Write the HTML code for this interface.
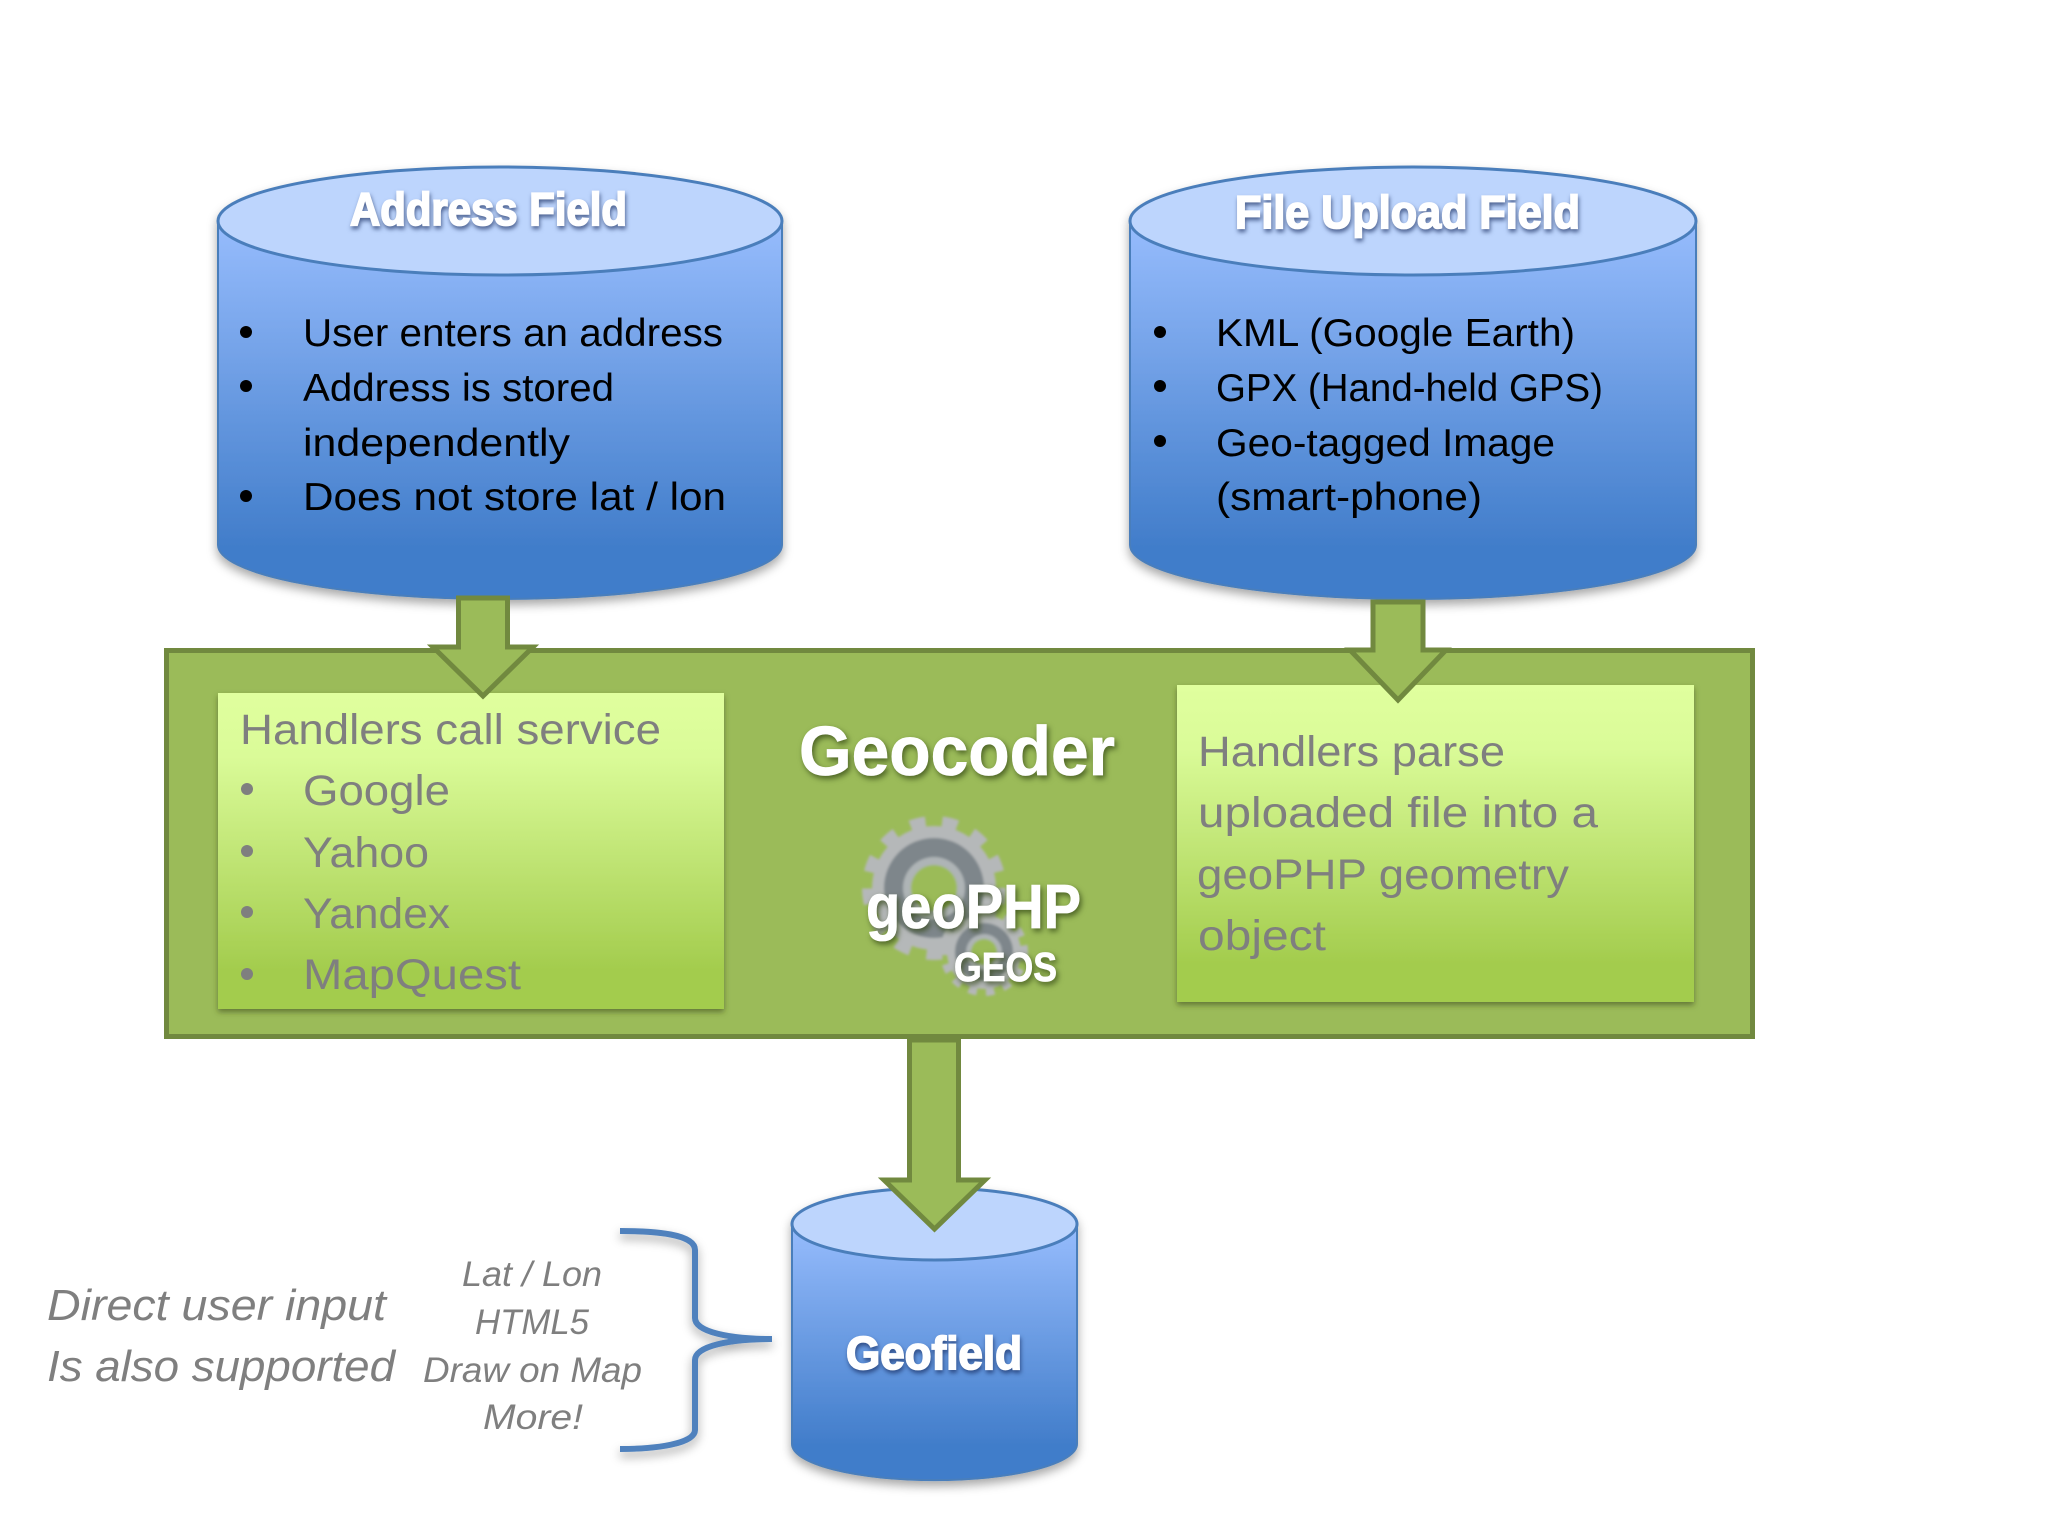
<!DOCTYPE html>
<html><head><meta charset="utf-8"><style>
html,body{margin:0;padding:0;background:#fff;width:2048px;height:1536px;overflow:hidden}
svg{display:block}
text{font-family:"Liberation Sans",sans-serif}
.b{font-size:39px;fill:#000}
.g{font-size:43px;fill:#7f7f7f}
.i{font-style:italic;fill:#7f7f7f}
.t{font-weight:bold;fill:#fff;stroke:#fff;stroke-width:1.8;filter:drop-shadow(1px 3px 2px rgba(20,40,90,.65))}
.w{font-weight:bold;fill:#fff;stroke:#fff;stroke-width:.8;filter:drop-shadow(2px 3px 3px rgba(50,70,20,.75))}
</style></head><body>
<svg width="2048" height="1536" viewBox="0 0 2048 1536" xmlns="http://www.w3.org/2000/svg">
<defs>
<linearGradient id="c" x1="0" y1="0" x2="0" y2="1"><stop offset="0.14" stop-color="#95bbfc"/><stop offset="0.88" stop-color="#417dca"/><stop offset="1" stop-color="#417dca"/></linearGradient>
<linearGradient id="l" x1="0" y1="0" x2="0" y2="1"><stop offset="0" stop-color="#e0ff9e"/><stop offset="0.2" stop-color="#dafb98"/><stop offset="0.88" stop-color="#a3cc4d"/><stop offset="1" stop-color="#a3cc4d"/></linearGradient>
<filter id="s" x="-10%" y="-10%" width="120%" height="125%"><feDropShadow dx="0" dy="5" stdDeviation="5" flood-color="#000" flood-opacity=".35"/></filter>
<filter id="s2" x="-10%" y="-10%" width="120%" height="125%"><feDropShadow dx="0" dy="3" stdDeviation="3" flood-color="#3c4a1c" flood-opacity=".6"/></filter>
<filter id="soft" x="-10%" y="-10%" width="120%" height="120%"><feGaussianBlur stdDeviation="1.2"/></filter>
</defs>
<rect width="2048" height="1536" fill="#fff"/>

<!-- cylinder 1 -->
<g filter="url(#s)"><path d="M218 221 V545 A282 54 0 0 0 782 545 V221 A282 54 0 0 0 218 221Z" fill="url(#c)" stroke="#4a7ebb" stroke-width="2"/></g>
<ellipse cx="500" cy="221" rx="282" ry="54" fill="#bdd5fd" stroke="#4a7ebb" stroke-width="3"/>
<text class="t" x="350" y="225" font-size="46" textLength="277" lengthAdjust="spacingAndGlyphs">Address Field</text>
<g fill="#000"><circle cx="246" cy="332" r="6"/><circle cx="246" cy="386" r="6"/><circle cx="246" cy="496" r="6"/></g>
<text class="b" x="303" y="346" textLength="420" lengthAdjust="spacingAndGlyphs">User enters an address</text>
<text class="b" x="303" y="401" textLength="311" lengthAdjust="spacingAndGlyphs">Address is stored</text>
<text class="b" x="303" y="456" textLength="267" lengthAdjust="spacingAndGlyphs">independently</text>
<text class="b" x="303" y="510" textLength="423" lengthAdjust="spacingAndGlyphs">Does not store lat / lon</text>

<!-- cylinder 2 -->
<g filter="url(#s)"><path d="M1130 221 V545 A283 54 0 0 0 1696 545 V221 A283 54 0 0 0 1130 221Z" fill="url(#c)" stroke="#4a7ebb" stroke-width="2"/></g>
<ellipse cx="1413" cy="221" rx="283" ry="54" fill="#bdd5fd" stroke="#4a7ebb" stroke-width="3"/>
<text class="t" x="1235" y="228" font-size="46" textLength="345" lengthAdjust="spacingAndGlyphs">File Upload Field</text>
<g fill="#000"><circle cx="1160" cy="332" r="6"/><circle cx="1160" cy="386" r="6"/><circle cx="1160" cy="441" r="6"/></g>
<text class="b" x="1216" y="346" textLength="359" lengthAdjust="spacingAndGlyphs">KML (Google Earth)</text>
<text class="b" x="1216" y="401" textLength="387" lengthAdjust="spacingAndGlyphs">GPX (Hand-held GPS)</text>
<text class="b" x="1216" y="456" textLength="339" lengthAdjust="spacingAndGlyphs">Geo-tagged Image</text>
<text class="b" x="1216" y="510" textLength="266" lengthAdjust="spacingAndGlyphs">(smart-phone)</text>

<!-- Geocoder box -->
<rect x="166.500" y="650.500" width="1586" height="386" fill="#9bbb59" stroke="#71893f" stroke-width="5"/>
<rect x="218" y="693" width="506" height="316" fill="url(#l)" filter="url(#s2)"/>
<rect x="1177" y="685" width="517" height="317" fill="url(#l)" filter="url(#s2)"/>

<text class="g" x="240" y="744" textLength="421" lengthAdjust="spacingAndGlyphs">Handlers call service</text>
<g fill="#7f7f7f"><circle cx="247" cy="789" r="6"/><circle cx="247" cy="851" r="6"/><circle cx="247" cy="912" r="6"/><circle cx="247" cy="974" r="6"/></g>
<text class="g" x="303" y="805" textLength="147" lengthAdjust="spacingAndGlyphs">Google</text>
<text class="g" x="303" y="867" textLength="126" lengthAdjust="spacingAndGlyphs">Yahoo</text>
<text class="g" x="303" y="928" textLength="147" lengthAdjust="spacingAndGlyphs">Yandex</text>
<text class="g" x="303" y="989" textLength="218" lengthAdjust="spacingAndGlyphs">MapQuest</text>

<text class="g" x="1198" y="766" textLength="307" lengthAdjust="spacingAndGlyphs">Handlers parse</text>
<text class="g" x="1198" y="827" textLength="400" lengthAdjust="spacingAndGlyphs">uploaded file into a</text>
<text class="g" x="1197" y="889" textLength="372" lengthAdjust="spacingAndGlyphs">geoPHP geometry</text>
<text class="g" x="1198" y="950" textLength="128" lengthAdjust="spacingAndGlyphs">object</text>

<!-- gears -->
<g filter="url(#soft)">
<circle cx="934" cy="888" r="64" fill="none" stroke="#b5b8b9" stroke-width="16" stroke-dasharray="15 15.930"/>
<circle cx="934" cy="888" r="62" fill="#b5b8b9"/>
<circle cx="934" cy="888" r="50" fill="#7e868b"/>
<circle cx="934" cy="888" r="31" fill="#aeb4b6"/>
<circle cx="934" cy="888" r="23" fill="#9bbb59"/>
<circle cx="984" cy="952" r="38" fill="none" stroke="#b5b8b9" stroke-width="12" stroke-dasharray="8 8.580"/>
<circle cx="984" cy="952" r="37" fill="#b5b8b9"/>
<circle cx="984" cy="952" r="29" fill="#7e868b"/>
<circle cx="984" cy="952" r="18" fill="#aeb4b6"/>
<circle cx="984" cy="952" r="13" fill="#9bbb59"/>
</g>
<text class="w" x="799" y="775" font-size="70" textLength="316" lengthAdjust="spacingAndGlyphs">Geocoder</text>
<text class="w" x="866" y="928" font-size="62" textLength="215" lengthAdjust="spacingAndGlyphs">geoPHP</text>
<text class="w" x="954" y="981" font-size="41" textLength="103" lengthAdjust="spacingAndGlyphs">GEOS</text>

<!-- cylinder 3 -->
<g filter="url(#s)"><path d="M792 1224 V1444 A142 36 0 0 0 1077 1444 V1224 A142 36 0 0 0 792 1224Z" fill="url(#c)" stroke="#4a7ebb" stroke-width="2"/></g>
<ellipse cx="934.500" cy="1224" rx="142.500" ry="36" fill="#bdd5fd" stroke="#4a7ebb" stroke-width="3"/>
<text class="t" x="846" y="1369" font-size="46" textLength="176" lengthAdjust="spacingAndGlyphs">Geofield</text>

<!-- arrows -->
<g fill="#9bbb59" stroke="#71893f" stroke-width="5" stroke-miterlimit="10">
<polygon points="458.500,598 507.500,598 507.500,647 533,647 483,696 433,647 458.500,647"/>
<polygon points="1373,602 1423,602 1423,650 1446,650 1398,700 1350,650 1373,650"/>
<polygon points="909.500,1040 958.500,1040 958.500,1180 985,1180 934.500,1229 884,1180 909.500,1180"/>
</g>

<!-- brace -->
<path d="M620 1231 C655 1231 695 1234 695 1250 V1318 C695 1332 730 1339 772 1339 C730 1339 695 1346 695 1360 V1430 C695 1444 655 1449 620 1449" fill="none" stroke="#4f81bd" stroke-width="6" filter="url(#s)"/>

<!-- italic text -->
<text class="i" x="47" y="1320" font-size="44" textLength="339" lengthAdjust="spacingAndGlyphs">Direct user input</text>
<text class="i" x="47" y="1381" font-size="44" textLength="348" lengthAdjust="spacingAndGlyphs">Is also supported</text>
<text class="i" x="462" y="1286" font-size="35" textLength="140" lengthAdjust="spacingAndGlyphs">Lat / Lon</text>
<text class="i" x="475" y="1334" font-size="35" textLength="114" lengthAdjust="spacingAndGlyphs">HTML5</text>
<text class="i" x="423" y="1382" font-size="35" textLength="219" lengthAdjust="spacingAndGlyphs">Draw on Map</text>
<text class="i" x="483" y="1429" font-size="35" textLength="100" lengthAdjust="spacingAndGlyphs">More!</text>
</svg>
</body></html>
